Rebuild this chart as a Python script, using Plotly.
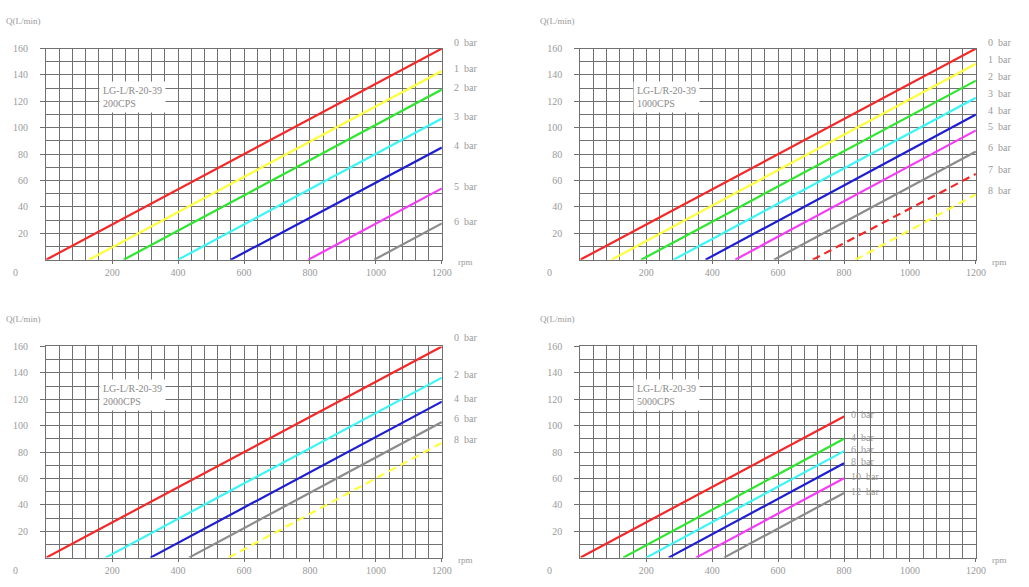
import plotly.graph_objects as go

# ---- values ----
rpm_ticks = [200, 400, 600, 800, 1000, 1200]
rpm_minor_ticks = [100, 300, 500, 700, 900, 1100]
q_ticks = [20, 40, 60, 80, 100, 120, 140, 160]

# LG-L/R-20-39  200CPS
bar_200 = [0, 1, 2, 3, 4, 5, 6]
rpm0_200 = [0, 130, 235, 400, 560, 795, 995]
qmax_200 = [160, 143, 129, 107, 85, 54, 27.5]

# 1000CPS
bar_1000 = [0, 1, 2, 3, 4, 5, 6, 7, 8]
rpm0_1000 = [0, 95, 185, 283, 380, 470, 588, 705, 835]
qmax_1000 = [160, 148.5, 135.7, 122.7, 110, 98, 82, 65, 49.5]

# 2000CPS
bar_2000 = [0, 2, 4, 6, 8]
rpm0_2000 = [0, 180, 316, 433, 553]
qmax_2000 = [160, 136.4, 118.2, 102.7, 87]

# 5000CPS (curves stop at 800 rpm)
bar_5000 = [0, 4, 6, 8, 10, 12]
rpm0_5000 = [0, 130, 200, 268, 351, 436]
qmax_5000 = [107, 90, 80.7, 71.5, 60.2, 49]

model = "LG-L/R-20-39"

# ---- styles ----
RED, YEL, GRN, CYN = "#f42828", "#ffff3c", "#2ee62e", "#3cf5f5"
BLU, MAG, GRY = "#1e1ed2", "#f53cf5", "#8c8c8c"
GRID = "#707070"
TXT = "#9a9a9a"
FONT = "Liberation Serif"
DASH = "8px,5px"

W, H = 1029, 587
PW, PH = 399.5, 213.3  # plot area size in px

panels = [
    dict(cps="200CPS", bars=bar_200, rpm0=rpm0_200, qmax=qmax_200, rpm_end=1200,
         colors=[RED, YEL, GRN, CYN, BLU, MAG, GRY], dashed=[],
         left=46.7, top=43, shift=2, zshift=6),
    dict(cps="1000CPS", bars=bar_1000, rpm0=rpm0_1000, qmax=qmax_1000, rpm_end=1200,
         colors=[RED, YEL, GRN, CYN, BLU, MAG, GRY, RED, YEL], dashed=[7, 8],
         left=586, top=43, shift=4, zshift=6),
    dict(cps="2000CPS", bars=bar_2000, rpm0=rpm0_2000, qmax=qmax_2000, rpm_end=1200,
         colors=[RED, CYN, BLU, GRY, YEL], dashed=[8],
         left=46.7, top=344, shift=3.5, zshift=9),
    dict(cps="5000CPS", bars=bar_5000, rpm0=rpm0_5000, qmax=qmax_5000, rpm_end=800,
         colors=[RED, GRN, CYN, BLU, MAG, GRY], dashed=[],
         left=586, top=344, shift=1.5, zshift=2),
]

fig = go.Figure()
annotations = []
layout = {}

for i, p in enumerate(panels, start=1):
    xa, ya = ("x" if i == 1 else f"x{i}"), ("y" if i == 1 else f"y{i}")
    xdom = [p["left"] / W, (p["left"] + PW) / W]
    ydom = [1 - (p["top"] + PH) / H, 1 - p["top"] / H]

    for b, r0, q1, c in zip(p["bars"], p["rpm0"], p["qmax"], p["colors"]):
        fig.add_trace(go.Scatter(
            x=[r0, p["rpm_end"]], y=[0, q1], mode="lines",
            line=dict(color=c, width=2.2, dash=DASH if b in p["dashed"] else "solid"),
            xaxis=xa, yaxis=ya, showlegend=False, hoverinfo="skip"))
        annotations.append(dict(
            xref=xa, yref=ya, x=p["rpm_end"], y=q1, text=f"{b}\u00a0 bar",
            xanchor="left", yanchor="middle", showarrow=False,
            xshift=10 if p["rpm_end"] == 1200 else 5,
            yshift=p["zshift"] if b == 0 else p["shift"],
            font=dict(family=FONT, size=10, color=TXT)))

    axis_common = dict(showline=True, mirror=True, linecolor=GRID, linewidth=1.3,
                       showgrid=True, gridcolor=GRID, gridwidth=1.2, zeroline=False,
                       ticks="outside", tickcolor=GRID, tickwidth=1,
                       tickfont=dict(family=FONT, size=10, color=TXT))
    layout[f"xaxis{i}"] = dict(axis_common, domain=xdom, anchor=ya, range=[0, 1200],
                               tickvals=rpm_ticks, ticklen=3, ticklabelstandoff=0,
                               minor=dict(dtick=40, tick0=0, showgrid=True, gridcolor=GRID,
                                          gridwidth=1.2, ticks=""))
    layout[f"yaxis{i}"] = dict(axis_common, domain=ydom, anchor=xa, range=[0, 160],
                               tickvals=q_ticks, ticklen=5, ticklabelstandoff=10,
                               minor=dict(dtick=10, tick0=0, showgrid=True, gridcolor=GRID,
                                          gridwidth=1.2, ticks=""))
    # small ticks at odd hundreds
    layout[f"xaxis{i + 4}"] = dict(overlaying=xa, anchor=ya, domain=xdom, range=[0, 1200],
                                   tickvals=rpm_minor_ticks, ticks="outside", ticklen=3,
                                   tickcolor=GRID, tickwidth=1, showticklabels=False,
                                   showgrid=False, showline=False, zeroline=False, side="bottom")

    # model box
    annotations.append(dict(
        xref=xa, yref=ya, x=160, y=123, xanchor="left", yanchor="middle",
        text=f"{model}<br>{p['cps']}", align="left", showarrow=False,
        bgcolor="white", borderpad=3,
        font=dict(family=FONT, size=10, color="#8a8a8a")))
    # axis names
    annotations.append(dict(
        xref=xa, yref=ya, x=1200, y=0, xshift=24, yshift=-2, text="rpm",
        xanchor="center", yanchor="middle", showarrow=False,
        font=dict(family=FONT, size=9, color=TXT)))
    annotations.append(dict(
        xref="paper", yref="paper", x=(p["left"] - 43) / W, y=1 - (p["top"] - 28) / H,
        text="Q(L/min)", xanchor="left", yanchor="middle", showarrow=False,
        font=dict(family=FONT, size=9, color=TXT)))
    annotations.append(dict(
        xref="paper", yref="paper", x=(p["left"] - 31) / W, y=1 - (p["top"] + 226.5) / H,
        text="0", xanchor="center", yanchor="middle", showarrow=False,
        font=dict(family=FONT, size=10, color=TXT)))

fig.update_layout(**layout)
fig.update_layout(
    width=W, height=H, margin=dict(l=0, r=0, t=0, b=0),
    paper_bgcolor="white", plot_bgcolor="white",
    annotations=annotations, showlegend=False,
)

fig.write_html("out.html", config={"displayModeBar": False},
               post_script="document.body.style.margin='0px';")
